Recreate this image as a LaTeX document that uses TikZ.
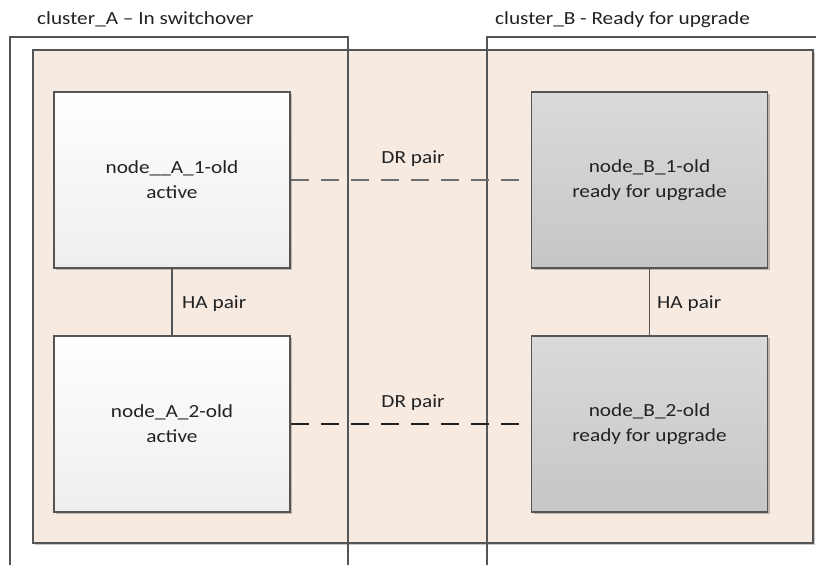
\documentclass[tikz,border=0pt]{standalone}
\usepackage{fontspec}
\newfontfamily\diagfont[FakeStretch=1.15]{Carlito}
\usetikzlibrary{shadows}
\definecolor{peach}{HTML}{F6EAE1}
\definecolor{edgec}{HTML}{555555}
\definecolor{txt}{HTML}{222222}
\definecolor{actTop}{HTML}{FFFFFF}
\definecolor{actBot}{HTML}{EEEEEE}
\definecolor{rdyTop}{HTML}{DADADA}
\definecolor{rdyBot}{HTML}{C6C6C6}
\definecolor{drTop}{HTML}{6E6E6E}
\definecolor{drBot}{HTML}{222222}
\begin{document}
\begin{tikzpicture}[x=1pt,y=-1pt,
  every node/.style={font=\diagfont\fontsize{18.5}{25}\selectfont, text=txt},
  softshadow/.style={drop shadow={shadow xshift=2pt, shadow yshift=-2pt, opacity=0.22, fill=black}},
  nodebox/.style={draw=edgec, line width=1.5pt, minimum width=236pt, minimum height=176pt,
    align=center, inner sep=0pt, softshadow},
  activebox/.style={nodebox, top color=actTop, bottom color=actBot},
  readybox/.style={nodebox, top color=rdyTop, bottom color=rdyBot},
  clusterline/.style={draw=edgec, line width=1.3pt},
  halink/.style={draw=edgec, line width=1.2pt},
  drlink/.style={line width=2pt, dash pattern=on 18pt off 12pt},
  pairlabel/.style={inner sep=0pt, anchor=base},
  clusterlabel/.style={inner sep=0pt, anchor=base west}
]
\useasboundingbox (0,0) rectangle (816,565);

% background container
\draw[draw=edgec, line width=1.5pt, fill=peach, softshadow] (33,50) rectangle (813,543);

% cluster outlines (open at the bottom)
\draw[clusterline] (10,565) -- (10,37) -- (348,37) -- (348,565);
\draw[clusterline] (487,565) -- (487,37) -- (820,37);

% cluster labels
\node[clusterlabel] (labA) at (37,24) {cluster\_A – In switchover};
\node[clusterlabel] (labB) at (495,24) {cluster\_B - Ready for upgrade};

% nodes
\node[activebox] (a1) at (172,180) {node\_\_A\_1-old\\active};
\node[readybox]  (b1) at (649.5,180) {node\_B\_1-old\\ready for upgrade};
\node[activebox] (a2) at (172,424) {node\_A\_2-old\\active};
\node[readybox]  (b2) at (649.5,424) {node\_B\_2-old\\ready for upgrade};

% HA pairs
\draw[halink] (a1.south) -- (a2.north);
\draw[halink] (b1.south) -- (b2.north);
\node[pairlabel, anchor=base west] (haA) at (182,308) {HA pair};
\node[pairlabel, anchor=base west] (haB) at (657,308) {HA pair};

% DR pairs
\draw[drlink, draw=drTop] (a1.east) -- (b1.west);
\draw[drlink, draw=drBot] (a2.east) -- (b2.west);
\node[pairlabel] (dr1) at (413,163) {DR pair};
\node[pairlabel] (dr2) at (413,407) {DR pair};
\end{tikzpicture}
\end{document}
